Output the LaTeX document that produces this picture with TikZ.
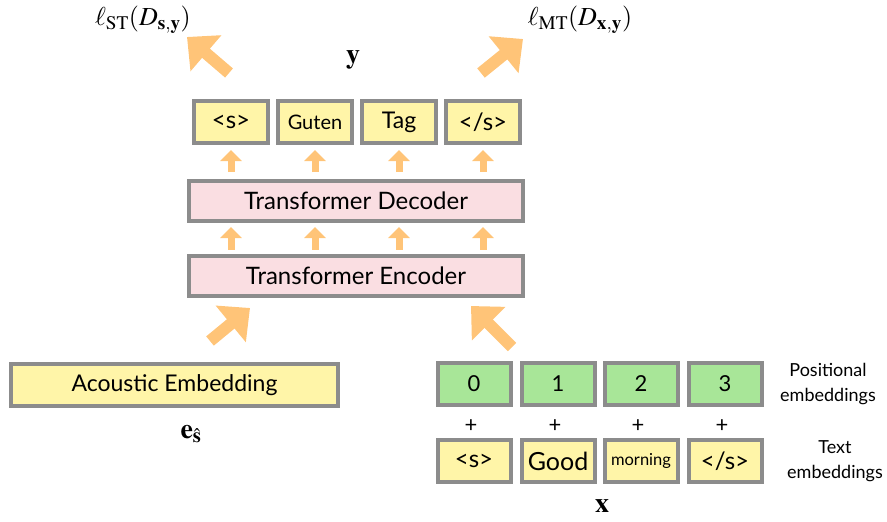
\documentclass[tikz,border=0pt]{standalone}
\usepackage{mathptmx}
\usepackage[no-math]{fontspec}
\setmainfont{Lato}
\usetikzlibrary{arrows.meta,calc}
\definecolor{boxyellow}{RGB}{255,245,168}
\definecolor{boxpink}{RGB}{250,222,226}
\definecolor{boxgreen}{RGB}{168,230,152}
\definecolor{boxgray}{RGB}{140,140,140}
\definecolor{flow}{RGB}{255,196,120}
\newcommand{\fs}[1]{\fontsize{#1}{#1}\selectfont}
\tikzset{
  tok/.style={draw=boxgray, line width=4pt, inner sep=0pt,
    minimum width=74pt, minimum height=42pt, fill=boxyellow},
  posbox/.style={tok, fill=boxgreen, minimum width=73pt, font=\fs{22}},
  layer/.style={draw=boxgray, line width=4pt, inner sep=0pt,
    minimum width=334pt, minimum height=40pt, fill=boxpink, font=\fs{24}},
  smallarr/.style={draw=flow, line width=7pt,
    -{Triangle[width=21pt,length=11pt]}},
  bigarr/.style={draw=flow, line width=12pt,
    -{Triangle[width=46pt,length=25pt]}},
  mathlbl/.style={inner sep=0pt, font=\fs{28}},
  sidelbl/.style={inner sep=0pt, align=center,
    font=\fontsize{18}{25}\selectfont}
}
\begin{document}
\begin{tikzpicture}[x=1pt,y=-1pt]
\useasboundingbox (0,0) rectangle (887,522);

% output tokens
\node[tok, font=\fs{24}] (t1) at (231,122) {<s>};
\node[tok, font=\fs{20}] (t2) at (315,122) {Guten};
\node[tok, font=\fs{23}] (t3) at (399,122) {Tag};
\node[tok, font=\fs{24}] (t4) at (483,122) {</s>};

% transformer stack
\node[layer] (dec) at (356,201) {Transformer Decoder};
\node[layer] (enc) at (356,275.5) {Transformer Encoder};

% acoustic input
\node[tok, minimum width=327pt, font=\fs{23}] (ac) at (174.5,385) {Acoustic Embedding};
\node[mathlbl] (es) at (191,434) {$\mathbf{e}_{\hat{\mathbf{s}}}$};

% positional embeddings
\node[posbox] (p0) at (474,384) {0};
\node[posbox] (p1) at (558,384) {1};
\node[posbox] (p2) at (641,384) {2};
\node[posbox] (p3) at (725,384) {3};

% text embeddings
\node[tok, minimum width=73pt, font=\fs{24}] (w0) at (474,461) {<s>};
\node[tok, minimum width=73pt, font=\fs{25}] (w1) at (558,461) {Good};
\node[tok, minimum width=73pt, font=\fs{16.5}] (w2) at (641,461) {morning};
\node[tok, minimum width=73pt, font=\fs{24}] (w3) at (725,461) {</s>};

% sums between the two rows
\foreach \i in {0,...,3}{
  \node[inner sep=0pt, font=\fs{22}] (plus\i) at ($(p\i.south)!0.5!(w\i.north)+(-3,4)$) {+};
}

\node[sidelbl] (poslbl) at (828,384) {Positional\\embeddings};
\node[sidelbl] (txtlbl) at (835,461) {Text\\embeddings};
\node[mathlbl] (xl) at (602,506) {$\mathbf{x}$};
\node[mathlbl] (yl) at (353,60) {$\mathbf{y}$};

% losses
\node[mathlbl, font=\fs{26}] (lst) at (143,20) {$\ell_{\mathrm{ST}}(D_{\mathbf{s},\mathbf{y}})$};
\node[mathlbl, font=\fs{26}] (lmt) at (580,20) {$\ell_{\mathrm{MT}}(D_{\mathbf{x},\mathbf{y}})$};

% vertical flow inside the stack
\foreach \i in {1,...,4}{
  \draw[smallarr, shorten <=7pt, shorten >=5pt] (dec.north -| t\i) -- (t\i.south);
  \draw[smallarr, shorten <=4pt, shorten >=4pt] (enc.north -| t\i) -- (dec.south -| t\i);
}

% diagonal flows
\coordinate (acTail) at (210,341);
\coordinate (acTip) at (250,308);
\coordinate (txTail) at (512,347);
\coordinate (txTip) at (471,306);
\coordinate (stTail) at (229,73);
\coordinate (stTip) at (187,37);
\coordinate (mtTail) at (481,73);
\coordinate (mtTip) at (523,39);
\draw[bigarr] (acTail) -- (acTip);
\draw[bigarr] (txTail) -- (txTip);
\draw[bigarr] (stTail) -- (stTip);
\draw[bigarr] (mtTail) -- (mtTip);
\end{tikzpicture}
\end{document}
